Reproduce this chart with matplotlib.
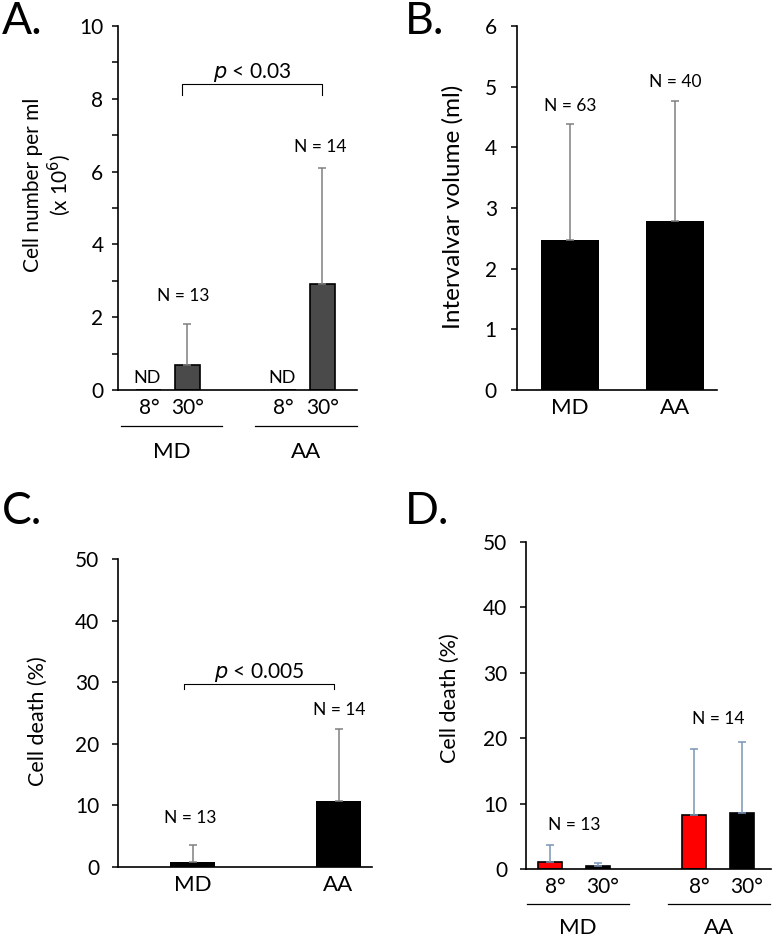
import numpy as np
import matplotlib
matplotlib.use("Agg")
import matplotlib.pyplot as plt

plt.rcParams['font.family'] = ['Lato', 'DejaVu Sans']

# A. cell number per ml (x 10^6)
a_labels = ['8°', '30°', '8°', '30°']
a_means = [0, 0.7, 0, 2.9]
a_errs = [0, 1.1, 0, 3.2]
a_detected = [False, True, False, True]

# B. intervalvar volume (ml)
b_labels = ['MD', 'AA']
b_means = [2.47, 2.78]
b_errs = [1.91, 1.99]
b_n = ['N = 63', 'N = 40']

# C. cell death (%)
c_labels = ['MD', 'AA']
c_means = [0.8, 10.7]
c_errs = [2.7, 11.7]

# D. cell death (%) by temperature
d_labels = ['8°', '30°', '8°', '30°']
d_means = [1.0, 0.4, 8.3, 8.6]
d_errs = [2.6, 0.5, 10.0, 10.8]
d_colors = ['#ff0000', 'black', '#ff0000', 'black']

W, H = 773, 938
fig = plt.figure(figsize=(W / 100, H / 100), dpi=100)

TICK = 15
NSIZE = 12.5


def px_axes(x0, y0, x1, y1):
    return fig.add_axes([x0 / W, 1 - y1 / H, (x1 - x0) / W, (y1 - y0) / H])


def style(ax, ypad=8):
    for s in ['top', 'right']:
        ax.spines[s].set_visible(False)
    for s in ['left', 'bottom']:
        ax.spines[s].set_linewidth(1.2)
    ax.tick_params(axis='y', direction='out', length=4.5, width=1.1, labelsize=TICK, pad=ypad)
    ax.tick_params(axis='x', length=0, labelsize=TICK, pad=6)


def group_lines(ax, spans, names, yline, ytext):
    tr = ax.get_xaxis_transform()
    for (x0, x1), name in zip(spans, names):
        ax.plot([x0, x1], [yline, yline], color='black', lw=0.9, transform=tr, clip_on=False)
        ax.text((x0 + x1) / 2, ytext, name, transform=tr, ha='center', va='center', fontsize=16)


def bracket(ax, x0, x1, ytop, ybot, label):
    ax.plot([x0, x0, x1, x1], [ybot, ytop, ytop, ybot], color='black', lw=0.8)
    ax.text((x0 + x1) / 2, ytop, r'$\it{p}$' + label, ha='center', va='bottom', fontsize=15)


def ylab(x, y, s, size=15):
    fig.text(x / W, 1 - y / H, s, rotation=90, ha='center', va='center', fontsize=size,
             linespacing=1.15)


# ---- A ----
ax = px_axes(118, 26, 357, 390)
style(ax, ypad=6)
xa = np.array([0.8, 1.8, 4.3, 5.3])
ax.bar(xa, a_means, width=0.65, color='#4a4a4a', edgecolor='black', linewidth=1.2)
for x, m, e, d in zip(xa, a_means, a_errs, a_detected):
    if d:
        ax.errorbar(x, m, yerr=[[0], [e]], color='#808080', lw=1.1, capsize=2.6, capthick=1.1)
    else:
        ax.text(x - 0.05, 0.1, 'ND', ha='center', va='bottom', fontsize=13)
ax.set_xlim(0, 6.2)
ax.set_ylim(0, 10)
ax.set_yticks(np.arange(0, 11, 1))
ax.set_yticklabels(['' if v % 2 else str(v) for v in range(11)])
ax.set_xticks(xa)
ax.set_xticklabels(a_labels)
ax.text(1.7, 2.35, 'N = 13', ha='center', va='bottom', fontsize=NSIZE)
ax.text(5.25, 6.45, 'N = 14', ha='center', va='bottom', fontsize=NSIZE)
bracket(ax, 1.66, 5.3, 8.4, 8.1, ' < 0.03')
group_lines(ax, [(0.08, 2.7), (3.56, 6.2)], ['MD', 'AA'], -0.099, -0.17)
ylab(48, 185, 'Cell number per ml\n(x 10$^6$)')
fig.text(2 / W, 1 - 22 / H, 'A.', fontsize=32, ha='left', va='center')

# ---- B ----
ax = px_axes(517, 26, 717, 390)
style(ax, ypad=10)
xb = np.array([0.53, 1.58])
ax.bar(xb, b_means, width=0.58, color='black')
ax.errorbar(xb, b_means, yerr=[[0, 0], b_errs], fmt='none', ecolor='#808080', elinewidth=1.1,
            capsize=2.6, capthick=1.1)
for x, m, e, n in zip(xb, b_means, b_errs, b_n):
    ax.text(x, m + e + 0.17, n, ha='center', va='bottom', fontsize=NSIZE)
ax.set_xlim(0, 2)
ax.set_ylim(0, 6)
ax.set_yticks(range(7))
ax.set_xticks(xb)
ax.set_xticklabels(b_labels, fontsize=16)
ylab(453, 207, 'Intervalvar volume (ml)', size=17.5)
fig.text(405 / W, 1 - 22 / H, 'B.', fontsize=32, ha='left', va='center')

# ---- C ----
ax = px_axes(118, 559, 372, 867)
style(ax, ypad=9)
xc = np.array([0.745, 2.205])
ax.bar(xc, c_means, width=0.45, color='black')
ax.errorbar(xc, c_means, yerr=[[0, 0], c_errs], fmt='none', ecolor='#808080', elinewidth=1.1,
            capsize=2.6, capthick=1.1)
ax.text(0.72, 6.6, 'N = 13', ha='center', va='bottom', fontsize=NSIZE)
ax.text(2.21, 24.2, 'N = 14', ha='center', va='bottom', fontsize=NSIZE)
bracket(ax, 0.66, 2.16, 29.7, 28.9, ' < 0.005')
ax.set_xlim(0, 2.54)
ax.set_ylim(0, 50)
ax.set_yticks(range(0, 51, 10))
ax.set_xticks(xc)
ax.set_xticklabels(c_labels, fontsize=16)
ylab(38, 721, 'Cell death (%)', size=15.5)
fig.text(2 / W, 1 - 512 / H, 'C.', fontsize=32, ha='left', va='center')

# ---- D ----
ax = px_axes(526, 542, 771, 869)
style(ax, ypad=9)
xd = np.array([0.5, 1.5, 3.5, 4.5])
ax.bar(xd, d_means, width=0.5, color=d_colors, edgecolor='black', linewidth=1.2)
ax.errorbar(xd, d_means, yerr=[[0] * 4, d_errs], fmt='none', ecolor='#7b95b8', elinewidth=1.1,
            capsize=2.6, capthick=1.1)
ax.text(1.0, 5.5, 'N = 13', ha='center', va='bottom', fontsize=NSIZE)
ax.text(4.0, 21.7, 'N = 14', ha='center', va='bottom', fontsize=NSIZE)
ax.set_xlim(0, 5.1)
ax.set_ylim(0, 50)
ax.set_yticks(range(0, 51, 10))
ax.set_xticks(xd + 0.1)
ax.set_xticklabels(d_labels)
group_lines(ax, [(0.02, 2.15), (2.96, 5.08)], ['MD', 'AA'], -0.107, -0.18)
ylab(450, 698, 'Cell death (%)', size=15.5)
fig.text(405 / W, 1 - 512 / H, 'D.', fontsize=32, ha='left', va='center')

fig.savefig('out.png', dpi=100)
